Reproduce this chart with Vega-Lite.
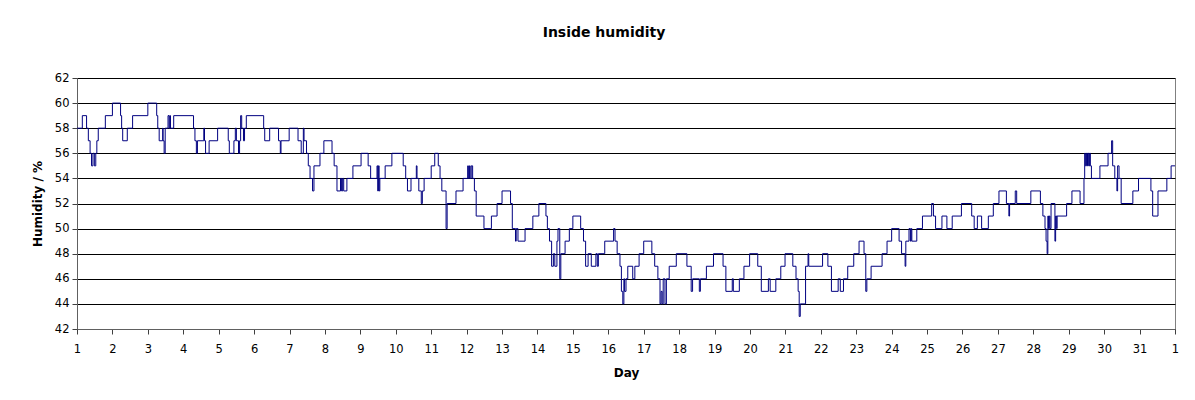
{
  "$schema": "https://vega.github.io/schema/vega-lite/v6.json",
  "width": 1098,
  "height": 251,
  "autosize": {"type": "none"},
  "padding": {"left": 77, "top": 78, "right": 20, "bottom": 71},
  "background": "white",
  "title": {"text": "Inside humidity", "font": "DejaVu Sans", "fontSize": 14, "fontWeight": "bold", "color": "black", "anchor": "middle", "dx": -22, "offset": 21, "baseline": "alphabetic"},
  "config": {
    "view": {"stroke": "#808080", "strokeWidth": 1},
    "axis": {"labelFont": "DejaVu Sans", "labelFontSize": 11.5, "labelColor": "black", "titleFont": "DejaVu Sans", "titleFontSize": 12, "titleFontWeight": "bold", "titleColor": "black", "domainColor": "#606060", "tickColor": "#404040", "tickSize": 5}
  },
  "data": {"values": [
    {"day": 1.00, "h": 58}, {"day": 1.15, "h": 59}, {"day": 1.27, "h": 58}, {"day": 1.32, "h": 57}, {"day": 1.37, "h": 56},
    {"day": 1.41, "h": 55}, {"day": 1.45, "h": 56}, {"day": 1.49, "h": 55}, {"day": 1.53, "h": 56}, {"day": 1.56, "h": 57},
    {"day": 1.60, "h": 58}, {"day": 1.80, "h": 59}, {"day": 2.00, "h": 60}, {"day": 2.23, "h": 59}, {"day": 2.26, "h": 58},
    {"day": 2.29, "h": 57}, {"day": 2.42, "h": 58}, {"day": 2.57, "h": 59}, {"day": 3.00, "h": 60}, {"day": 3.25, "h": 59},
    {"day": 3.28, "h": 58}, {"day": 3.32, "h": 57}, {"day": 3.42, "h": 58}, {"day": 3.43, "h": 57}, {"day": 3.46, "h": 56},
    {"day": 3.49, "h": 58}, {"day": 3.57, "h": 59}, {"day": 3.60, "h": 58}, {"day": 3.62, "h": 59}, {"day": 3.64, "h": 58},
    {"day": 3.73, "h": 59}, {"day": 4.29, "h": 58}, {"day": 4.33, "h": 57}, {"day": 4.37, "h": 56}, {"day": 4.40, "h": 57},
    {"day": 4.58, "h": 58}, {"day": 4.60, "h": 57}, {"day": 4.63, "h": 56}, {"day": 4.73, "h": 57}, {"day": 4.97, "h": 58},
    {"day": 5.27, "h": 57}, {"day": 5.30, "h": 56}, {"day": 5.43, "h": 57}, {"day": 5.47, "h": 58}, {"day": 5.50, "h": 57},
    {"day": 5.56, "h": 56}, {"day": 5.59, "h": 57}, {"day": 5.62, "h": 59}, {"day": 5.65, "h": 58}, {"day": 5.70, "h": 57},
    {"day": 5.73, "h": 58}, {"day": 5.78, "h": 59}, {"day": 6.27, "h": 58}, {"day": 6.30, "h": 57}, {"day": 6.44, "h": 58},
    {"day": 6.69, "h": 57}, {"day": 6.74, "h": 56}, {"day": 6.76, "h": 57}, {"day": 6.99, "h": 58}, {"day": 7.24, "h": 57},
    {"day": 7.33, "h": 56}, {"day": 7.39, "h": 58}, {"day": 7.41, "h": 57}, {"day": 7.48, "h": 56}, {"day": 7.53, "h": 55},
    {"day": 7.58, "h": 54}, {"day": 7.65, "h": 53}, {"day": 7.69, "h": 55}, {"day": 7.86, "h": 56}, {"day": 7.97, "h": 57},
    {"day": 8.20, "h": 56}, {"day": 8.26, "h": 55}, {"day": 8.34, "h": 53}, {"day": 8.44, "h": 54}, {"day": 8.47, "h": 53},
    {"day": 8.50, "h": 54}, {"day": 8.53, "h": 53}, {"day": 8.62, "h": 54}, {"day": 8.79, "h": 55}, {"day": 9.02, "h": 56},
    {"day": 9.22, "h": 55}, {"day": 9.29, "h": 54}, {"day": 9.47, "h": 55}, {"day": 9.49, "h": 53}, {"day": 9.51, "h": 55},
    {"day": 9.53, "h": 53}, {"day": 9.55, "h": 54}, {"day": 9.70, "h": 55}, {"day": 9.89, "h": 56}, {"day": 10.21, "h": 55},
    {"day": 10.28, "h": 54}, {"day": 10.33, "h": 53}, {"day": 10.43, "h": 54}, {"day": 10.58, "h": 55}, {"day": 10.60, "h": 54},
    {"day": 10.65, "h": 53}, {"day": 10.72, "h": 52}, {"day": 10.75, "h": 53}, {"day": 10.80, "h": 54}, {"day": 11.00, "h": 55},
    {"day": 11.10, "h": 56}, {"day": 11.20, "h": 55}, {"day": 11.25, "h": 54}, {"day": 11.30, "h": 53}, {"day": 11.42, "h": 50},
    {"day": 11.45, "h": 52}, {"day": 11.70, "h": 53}, {"day": 11.90, "h": 54}, {"day": 12.03, "h": 55}, {"day": 12.05, "h": 54},
    {"day": 12.08, "h": 55}, {"day": 12.10, "h": 54}, {"day": 12.13, "h": 55}, {"day": 12.17, "h": 54}, {"day": 12.22, "h": 53},
    {"day": 12.27, "h": 51}, {"day": 12.49, "h": 50}, {"day": 12.70, "h": 51}, {"day": 12.86, "h": 52}, {"day": 13.00, "h": 53},
    {"day": 13.24, "h": 52}, {"day": 13.29, "h": 50}, {"day": 13.38, "h": 49}, {"day": 13.40, "h": 50}, {"day": 13.45, "h": 49},
    {"day": 13.65, "h": 50}, {"day": 13.87, "h": 51}, {"day": 14.04, "h": 52}, {"day": 14.24, "h": 51}, {"day": 14.28, "h": 50},
    {"day": 14.34, "h": 49}, {"day": 14.40, "h": 47}, {"day": 14.45, "h": 48}, {"day": 14.49, "h": 47}, {"day": 14.55, "h": 49},
    {"day": 14.58, "h": 50}, {"day": 14.63, "h": 46}, {"day": 14.66, "h": 48}, {"day": 14.78, "h": 49}, {"day": 14.90, "h": 50},
    {"day": 15.00, "h": 51}, {"day": 15.22, "h": 50}, {"day": 15.30, "h": 49}, {"day": 15.36, "h": 47}, {"day": 15.43, "h": 48},
    {"day": 15.52, "h": 47}, {"day": 15.65, "h": 48}, {"day": 15.69, "h": 47}, {"day": 15.72, "h": 48}, {"day": 15.90, "h": 49},
    {"day": 16.15, "h": 50}, {"day": 16.19, "h": 49}, {"day": 16.25, "h": 48}, {"day": 16.33, "h": 47}, {"day": 16.37, "h": 45},
    {"day": 16.41, "h": 44}, {"day": 16.44, "h": 46}, {"day": 16.46, "h": 45}, {"day": 16.50, "h": 46}, {"day": 16.55, "h": 47},
    {"day": 16.69, "h": 46}, {"day": 16.75, "h": 47}, {"day": 16.87, "h": 48}, {"day": 17.00, "h": 49}, {"day": 17.23, "h": 48},
    {"day": 17.31, "h": 47}, {"day": 17.40, "h": 46}, {"day": 17.46, "h": 44}, {"day": 17.49, "h": 45}, {"day": 17.52, "h": 44},
    {"day": 17.55, "h": 46}, {"day": 17.60, "h": 44}, {"day": 17.64, "h": 46}, {"day": 17.72, "h": 47}, {"day": 17.92, "h": 48},
    {"day": 18.22, "h": 47}, {"day": 18.34, "h": 45}, {"day": 18.38, "h": 46}, {"day": 18.57, "h": 45}, {"day": 18.60, "h": 46},
    {"day": 18.77, "h": 47}, {"day": 18.97, "h": 48}, {"day": 19.24, "h": 47}, {"day": 19.32, "h": 45}, {"day": 19.50, "h": 46},
    {"day": 19.53, "h": 45}, {"day": 19.70, "h": 46}, {"day": 19.83, "h": 47}, {"day": 19.99, "h": 48}, {"day": 20.22, "h": 47},
    {"day": 20.32, "h": 45}, {"day": 20.52, "h": 46}, {"day": 20.57, "h": 45}, {"day": 20.73, "h": 46}, {"day": 20.87, "h": 47},
    {"day": 20.99, "h": 48}, {"day": 21.21, "h": 47}, {"day": 21.30, "h": 46}, {"day": 21.36, "h": 45}, {"day": 21.39, "h": 43},
    {"day": 21.42, "h": 44}, {"day": 21.57, "h": 47}, {"day": 21.64, "h": 48}, {"day": 21.66, "h": 47}, {"day": 22.05, "h": 48},
    {"day": 22.20, "h": 47}, {"day": 22.30, "h": 45}, {"day": 22.49, "h": 46}, {"day": 22.55, "h": 45}, {"day": 22.64, "h": 46},
    {"day": 22.76, "h": 47}, {"day": 22.93, "h": 48}, {"day": 23.08, "h": 49}, {"day": 23.22, "h": 48}, {"day": 23.27, "h": 45},
    {"day": 23.30, "h": 46}, {"day": 23.42, "h": 47}, {"day": 23.73, "h": 48}, {"day": 23.87, "h": 49}, {"day": 24.00, "h": 50},
    {"day": 24.21, "h": 49}, {"day": 24.28, "h": 48}, {"day": 24.38, "h": 47}, {"day": 24.40, "h": 49}, {"day": 24.49, "h": 50},
    {"day": 24.53, "h": 49}, {"day": 24.55, "h": 50}, {"day": 24.57, "h": 49}, {"day": 24.71, "h": 50}, {"day": 24.87, "h": 51},
    {"day": 25.13, "h": 52}, {"day": 25.18, "h": 51}, {"day": 25.24, "h": 50}, {"day": 25.42, "h": 51}, {"day": 25.56, "h": 50},
    {"day": 25.71, "h": 51}, {"day": 25.97, "h": 52}, {"day": 26.26, "h": 51}, {"day": 26.33, "h": 50}, {"day": 26.42, "h": 51},
    {"day": 26.54, "h": 50}, {"day": 26.73, "h": 51}, {"day": 26.87, "h": 52}, {"day": 27.03, "h": 53}, {"day": 27.24, "h": 52},
    {"day": 27.31, "h": 51}, {"day": 27.33, "h": 52}, {"day": 27.49, "h": 53}, {"day": 27.53, "h": 52}, {"day": 27.93, "h": 53},
    {"day": 28.20, "h": 52}, {"day": 28.27, "h": 51}, {"day": 28.33, "h": 50}, {"day": 28.36, "h": 49}, {"day": 28.39, "h": 48},
    {"day": 28.41, "h": 51}, {"day": 28.43, "h": 50}, {"day": 28.45, "h": 51}, {"day": 28.47, "h": 50}, {"day": 28.50, "h": 52},
    {"day": 28.61, "h": 49}, {"day": 28.63, "h": 51}, {"day": 28.66, "h": 50}, {"day": 28.67, "h": 51}, {"day": 28.94, "h": 52},
    {"day": 29.09, "h": 53}, {"day": 29.32, "h": 52}, {"day": 29.43, "h": 54}, {"day": 29.45, "h": 56}, {"day": 29.47, "h": 55},
    {"day": 29.50, "h": 56}, {"day": 29.53, "h": 55}, {"day": 29.55, "h": 56}, {"day": 29.57, "h": 55}, {"day": 29.59, "h": 56},
    {"day": 29.61, "h": 55}, {"day": 29.64, "h": 54}, {"day": 29.88, "h": 55}, {"day": 30.11, "h": 56}, {"day": 30.21, "h": 57},
    {"day": 30.24, "h": 55}, {"day": 30.30, "h": 54}, {"day": 30.36, "h": 53}, {"day": 30.38, "h": 55}, {"day": 30.42, "h": 54},
    {"day": 30.48, "h": 52}, {"day": 30.81, "h": 53}, {"day": 30.97, "h": 54}, {"day": 31.32, "h": 53}, {"day": 31.37, "h": 51},
    {"day": 31.52, "h": 53}, {"day": 31.77, "h": 54}, {"day": 31.89, "h": 55}, {"day": 32.00, "h": 55}
  ]},
  "mark": {"type": "line", "interpolate": "step-after", "color": "#000080", "strokeWidth": 1, "clip": true},
  "encoding": {
    "x": {"field": "day", "type": "quantitative", "scale": {"domain": [1, 32], "nice": false, "zero": false},
      "axis": {"title": "Day", "values": [1,2,3,4,5,6,7,8,9,10,11,12,13,14,15,16,17,18,19,20,21,22,23,24,25,26,27,28,29,30,31,32],
        "labelExpr": "datum.value == 32 ? '1' : datum.label", "grid": false, "labelPadding": 9, "titlePadding": 13, "labelFlush": false, "labelOverlap": false}},
    "y": {"field": "h", "type": "quantitative", "scale": {"domain": [42, 62], "nice": false, "zero": false},
      "axis": {"title": "Humidity / %", "values": [42,44,46,48,50,52,54,56,58,60,62], "grid": true, "gridColor": "black", "gridOpacity": 1, "gridWidth": 1, "labelPadding": 3, "titlePadding": 10, "labelFlush": false}}
  }
}
